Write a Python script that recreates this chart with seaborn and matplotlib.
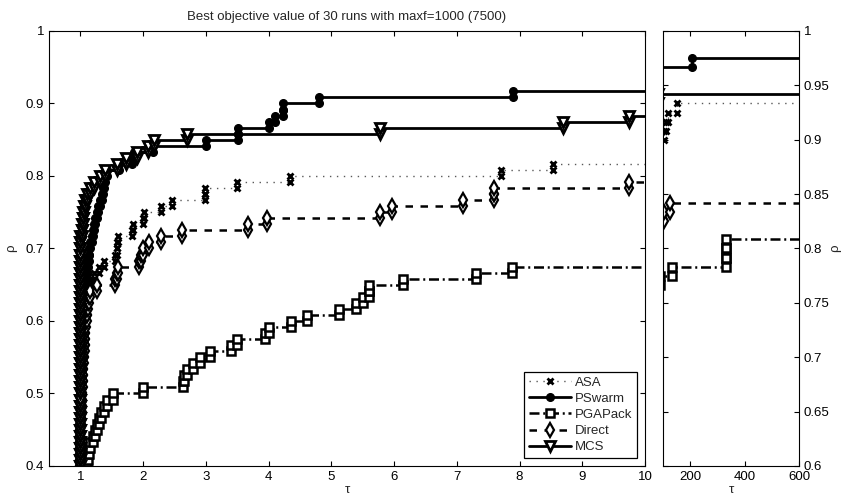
import numpy as np
import pandas as pd
import matplotlib
matplotlib.use('Agg')
from matplotlib import pyplot as plt
import seaborn as sns

# performance profile: one ratio tau per solved problem
# (values between 10 and 100 are not shown in either panel)
N_PROBLEMS = 120
X_END = 1e4

solvers = ['ASA', 'PSwarm', 'PGAPack', 'Direct', 'MCS']

ratios_asa = ([1.0] * 60 +
              [1.01, 1.02, 1.02, 1.03, 1.03, 1.04, 1.04, 1.05, 1.05, 1.06,
               1.06, 1.07, 1.07, 1.08, 1.09, 1.10, 1.11] +
              [1.13, 1.17, 1.22, 1.30, 1.37, 1.56, 1.58, 1.59, 1.60,
               1.83, 1.84, 2.00, 2.01, 2.28, 2.46, 2.99, 2.99, 3.50, 4.34,
               7.70, 8.53] +
              [11, 13, 16, 20, 25, 30, 40, 50, 65, 85] +
              [104, 110, 118, 151])

ratios_pswarm = ([1.0] * 68 +
                 [1.01, 1.02, 1.02, 1.03, 1.04, 1.05, 1.05, 1.06, 1.07, 1.08,
                  1.09, 1.10, 1.11, 1.12, 1.13, 1.14, 1.16, 1.18, 1.20, 1.22,
                  1.24, 1.26] +
                 [1.28, 1.31, 1.34, 1.36, 1.38, 1.40, 1.42, 1.62, 1.82, 1.86,
                  2.16, 3.00, 3.52, 3.52, 4.00, 4.10, 4.23, 4.23, 4.80, 7.89] +
                 [12, 18, 26, 40, 60, 85] +
                 [206])

ratios_pgapack = ([1.0] * 47 +
                  [1.08, 1.10, 1.12, 1.14, 1.16, 1.20, 1.23, 1.26, 1.29, 1.33,
                   1.37, 1.43, 1.52] +
                  [2.00, 2.63, 2.65, 2.70, 2.80, 2.90, 3.07, 3.40, 3.50, 3.95,
                   4.00, 4.35, 4.62, 5.12, 5.40, 5.50, 5.60, 5.60, 6.14, 7.30,
                   7.88] +
                  [11, 13, 15, 18, 22, 26, 30, 36, 45, 55, 70, 90] +
                  [133, 332, 332, 332])

ratios_direct = ([1.0] * 55 +
                 [1.01, 1.01, 1.02, 1.02, 1.03, 1.03, 1.04, 1.04, 1.05, 1.05,
                  1.06, 1.06, 1.07, 1.07, 1.08, 1.08, 1.09, 1.10, 1.11, 1.12,
                  1.13] +
                 [1.16, 1.26, 1.55, 1.58, 1.60, 1.94, 1.97, 2.00, 2.10, 2.28,
                  2.62, 3.68, 3.97, 5.78, 5.97, 7.10, 7.59, 7.60, 9.74] +
                 [14, 25, 45, 70] +
                 [104, 125])

ratios_mcs = ([1.0] * 86 +
              [1.02, 1.03, 1.04, 1.05, 1.06, 1.08, 1.11, 1.15,
               1.22, 1.32, 1.40, 1.58, 1.72, 1.90, 2.08,
               2.18, 2.70, 5.78, 8.70, 9.74] +
              [12, 16, 22, 30, 45, 60, 80])

all_ratios = [ratios_asa, ratios_pswarm, ratios_pgapack, ratios_direct, ratios_mcs]

left_xticks = [1, 2, 3, 4, 5, 6, 7, 8, 9, 10]
left_yticks = [0.4, 0.5, 0.6, 0.7, 0.8, 0.9, 1.0]
left_ylabels = ['0.4', '0.5', '0.6', '0.7', '0.8', '0.9', '1']
right_xticks = [200, 400, 600]
right_yticks = [0.6, 0.65, 0.7, 0.75, 0.8, 0.85, 0.9, 0.95, 1.0]
right_ylabels = ['0.6', '0.65', '0.7', '0.75', '0.8', '0.85', '0.9', '0.95', '1']

styles = {
    'ASA': dict(color='0.35', linestyle=(0, (1, 4)), linewidth=1.0, marker='x',
                markersize=4.5, markeredgewidth=2, markeredgecolor='k',
                markerfacecolor='k'),
    'PSwarm': dict(color='k', linestyle='-', linewidth=2, marker='o',
                   markersize=5.5, markeredgewidth=1, markeredgecolor='k',
                   markerfacecolor='k'),
    'PGAPack': dict(color='k', linestyle=(0, (4, 1.5, 0.8, 1.5)), linewidth=1.8,
                    marker='s', markersize=5.5, markeredgewidth=1.8,
                    markeredgecolor='k', markerfacecolor='w'),
    'Direct': dict(color='k', linestyle=(0, (3, 3)), linewidth=1.8, marker='d',
                   markersize=7, markeredgewidth=1.6, markeredgecolor='k',
                   markerfacecolor='w'),
    'MCS': dict(color='k', linestyle='-', linewidth=2, marker='v',
                markersize=6.5, markeredgewidth=2, markeredgecolor='k',
                markerfacecolor='w'),
}


def profile_steps(ratios):
    t = np.sort(np.asarray(ratios, dtype=float))
    rho = np.arange(1, len(t) + 1) / N_PROBLEMS
    xs = np.repeat(t, 2)
    ys = np.empty_like(xs)
    ys[0::2] = np.r_[0, rho[:-1]]
    ys[1::2] = rho
    return pd.DataFrame({'tau': np.r_[xs, X_END], 'rho': np.r_[ys, rho[-1]]})


sns.set_style('ticks')
plt.rcParams['font.family'] = ['Liberation Sans', 'DejaVu Sans']
plt.rcParams['font.size'] = 9.5
plt.rcParams['axes.linewidth'] = 0.8
plt.rcParams['xtick.direction'] = 'in'
plt.rcParams['ytick.direction'] = 'in'
plt.rcParams['xtick.major.size'] = 3.5
plt.rcParams['ytick.major.size'] = 3.5
plt.rcParams['xtick.major.width'] = 0.8
plt.rcParams['ytick.major.width'] = 0.8
plt.rcParams['axes.edgecolor'] = 'k'
plt.rcParams['xtick.color'] = 'k'
plt.rcParams['ytick.color'] = 'k'

fig = plt.figure(figsize=(8.43, 4.95), dpi=100)
ax1 = fig.add_axes([0.0581, 0.0586, 0.707, 0.8788])
ax2 = fig.add_axes([0.7865, 0.0586, 0.1613, 0.8788])

for ax in (ax1, ax2):
    for name, ratios in zip(solvers, all_ratios):
        df = profile_steps(ratios)
        sns.lineplot(data=df, x='tau', y='rho', ax=ax, sort=False,
                     estimator=None, legend=False,
                     label=name if ax is ax1 else None, **styles[name])
    for side in ['top', 'right', 'left', 'bottom']:
        ax.spines[side].set_visible(True)
    ax.tick_params(axis='both', which='both', top=True, right=True)

ax1.set_xlim(0.5, 10)
ax1.set_ylim(0.4, 1)
ax1.set_xticks(left_xticks)
ax1.set_xticklabels([str(v) for v in left_xticks])
ax1.set_yticks(left_yticks)
ax1.set_yticklabels(left_ylabels)
ax1.set_xlabel('τ', labelpad=1)
ax1.set_ylabel('ρ', labelpad=6)
ax1.set_title('Best objective value of 30 runs with maxf=1000 (7500)',
              fontsize=9.5, pad=8)

ax2.set_xlim(100, 600)
ax2.set_ylim(0.6, 1)
ax2.set_xticks(right_xticks)
ax2.set_xticklabels([str(v) for v in right_xticks])
ax2.set_yticks(right_yticks)
ax2.set_yticklabels(right_ylabels)
ax2.tick_params(axis='y', left=True, right=True, labelleft=False, labelright=True)
ax2.set_xlabel('τ', labelpad=1)
ax2.set_ylabel('ρ')
ax2.yaxis.set_label_position('right')
ax2.yaxis.set_label_coords(1.225, 0.5)

leg = ax1.legend(loc='lower right', fontsize=9.5, frameon=True, fancybox=False,
                 edgecolor='k', framealpha=1, handlelength=3.2,
                 handletextpad=0.3, labelspacing=0.3, borderpad=0.35,
                 borderaxespad=0.6)
leg.get_frame().set_linewidth(0.9)

fig.savefig('out.png', dpi=100)
